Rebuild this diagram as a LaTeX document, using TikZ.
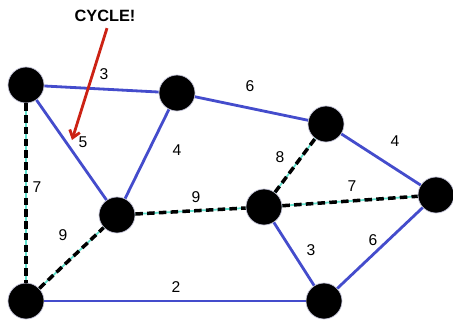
\documentclass[tikz,border=0pt]{standalone}
\usepackage{fontspec}
\setmainfont{Liberation Sans}
\usetikzlibrary{arrows.meta,calc}
\definecolor{EdgeBlue}{RGB}{68,76,204}
\definecolor{TreeCyan}{RGB}{96,224,204}
\definecolor{CycleRed}{RGB}{204,34,20}
\definecolor{RimGray}{RGB}{200,200,220}
\tikzset{
  vtx/.style={circle,fill=black,draw=RimGray,line width=0.4pt,minimum size=20.5pt,inner sep=0pt},
  blueedge/.style={EdgeBlue,line width=1.6pt},
  treeedge/.style={TreeCyan,line width=1pt,postaction={draw=black,line width=2pt,dash pattern=on 4.3pt off 2.4pt}},
  wt/.style={font=\fontsize{8.9}{10}\selectfont,inner sep=0pt}
}
\begin{document}
\begin{tikzpicture}[x=0.02cm,y=-0.02cm,>={Straight Barb[length=4pt,width=6pt]}]
\useasboundingbox (0,0) rectangle (453,322);
\node[vtx] (a) at (26,85){};
\node[vtx] (b) at (177,93){};
\node[vtx] (c) at (326,124){};
\node[vtx] (d) at (436,195){};
\node[vtx] (e) at (264,207){};
\node[vtx] (f) at (117,215){};
\node[vtx] (g) at (26,301){};
\node[vtx] (h) at (324,301){};
\draw[blueedge] (a)--(b);\draw[blueedge] (b)--(c);\draw[blueedge] (c)--(d);
\draw[blueedge] (a)--(f);\draw[blueedge] (b)--(f);\draw[blueedge] (e)--(h);
\draw[blueedge] (h)--(d);\draw[blueedge] (g)--(h);
\draw[treeedge] (a)--(g);\draw[treeedge] (g)--(f);\draw[treeedge] (f)--(e);
\draw[treeedge] (e)--(c);\draw[treeedge] (e)--(d);
\node[wt] (w1) at (104,74){3};\node[wt] (w2) at (250,86){6};\node[wt] (w3) at (395,141){4};
\node[wt] (w4) at (83,142){5};\node[wt] (w5) at (177,150){4};\node[wt] (w6) at (280,157){8};
\node[wt] (w7) at (352,186){7};\node[wt] (w8) at (196,197){9};\node[wt] (w9) at (37,187){7};
\node[wt] (w10) at (63,235){9};\node[wt] (w11) at (311,250){3};\node[wt] (w12) at (373,240){6};
\node[wt] (w13) at (176,287){2};
\node[wt,font=\fontsize{9.3}{10}\selectfont\bfseries] (cyc) at (105,16){CYCLE!};
\coordinate (tip) at (72,140);
\draw[->,CycleRed,line width=1.6pt] ($(cyc.south)+(2,6)$)--(tip);
\end{tikzpicture}
\end{document}
